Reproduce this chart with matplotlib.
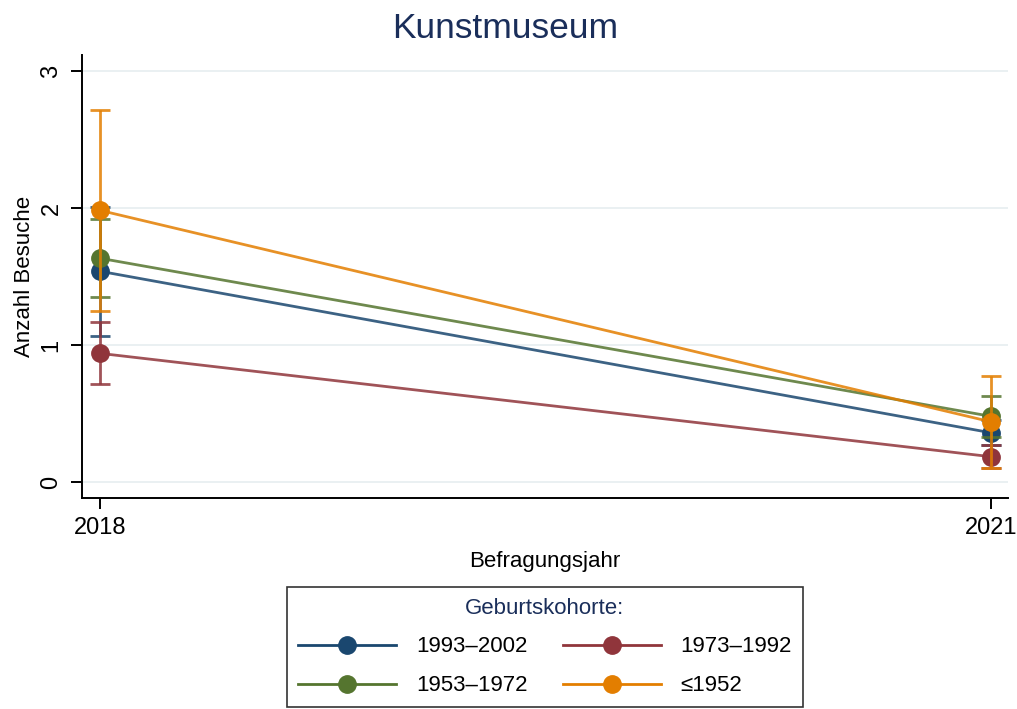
import matplotlib
matplotlib.use("Agg")
import matplotlib.pyplot as plt
from matplotlib.lines import Line2D

plt.rcParams['font.family'] = ['Liberation Sans', 'DejaVu Sans']

years = [2018, 2021]
cohorts = ["1993–2002", "1973–1992", "1953–1972", "≤1952"]
means = {
    "1993–2002": [1.54, 0.36],
    "1973–1992": [0.94, 0.185],
    "1953–1972": [1.635, 0.48],
    "≤1952": [1.985, 0.44],
}
lower = {
    "1993–2002": [1.07, 0.27],
    "1973–1992": [0.715, 0.10],
    "1953–1972": [1.35, 0.33],
    "≤1952": [1.25, 0.10],
}
upper = {
    "1993–2002": [2.01, 0.45],
    "1973–1992": [1.17, 0.27],
    "1953–1972": [1.92, 0.63],
    "≤1952": [2.72, 0.776],
}
colors = {
    "1993–2002": "#1a476f",
    "1973–1992": "#90353b",
    "1953–1972": "#55752f",
    "≤1952": "#e37e00",
}

fig = plt.figure(figsize=(10.17, 7.09), dpi=100)
ax = fig.add_axes([82/1017, 1-498/709, (1008-82)/1017, (498-55)/709])

handles = {}
for i, c in enumerate(cohorts):
    m = means[c]
    lo = [m[k]-lower[c][k] for k in range(2)]
    hi = [upper[c][k]-m[k] for k in range(2)]
    ax.errorbar(years, m, yerr=[lo, hi], fmt='none', ecolor=colors[c],
                elinewidth=2.0, capsize=7, capthick=2.0, alpha=0.85, zorder=3+i)
    ax.plot(years, m, color=colors[c], lw=2.0, alpha=0.85, zorder=3+i)
    ax.plot(years, m, 'o', color=colors[c], ms=12.5, zorder=3+i)
    handles[c] = Line2D([], [], color=colors[c], lw=2.0, marker='o', ms=12.5,
                        markerfacecolor=colors[c], markeredgecolor=colors[c])

ax.set_xlim(2017.94, 2021.058)
ax.set_ylim(-0.117, 3.12)
ax.set_xticks(years)
ax.set_yticks([0, 1, 2, 3])
ax.yaxis.grid(True, color='#e6eef0', lw=1.2)
ax.set_axisbelow(True)
for s in ['top', 'right']:
    ax.spines[s].set_visible(False)
for s in ['left', 'bottom']:
    ax.spines[s].set_linewidth(1.4)
ax.tick_params(axis='both', labelsize=17, width=1.4, length=8, pad=6)
ax.tick_params(axis='x', pad=6)
for lab in ax.get_yticklabels():
    lab.set_rotation(90)
    lab.set_va('center')
ax.set_xlabel("Befragungsjahr", fontsize=16, labelpad=8)
ax.set_ylabel("Anzahl Besuche", fontsize=16, labelpad=4)

fig.text(0.497, 1-29/709, "Kunstmuseum", ha='center', va='center', fontsize=25.5, color='#1a2e5a')

order = ["1993–2002", "1953–1972", "1973–1992", "≤1952"]
leg = fig.legend([handles[c] for c in order], order, ncol=2,
                 loc='center', bbox_to_anchor=(545/1017, 1-647/709),
                 fontsize=16, title="Geburtskohorte:", title_fontsize=16,
                 handlelength=4.4, columnspacing=1.6, handletextpad=0.9,
                 frameon=True, fancybox=False, borderpad=0.5, labelspacing=0.8)
leg.get_title().set_color('#1a2e5a')
leg.get_frame().set_edgecolor('black')
leg.get_frame().set_linewidth(1.2)

fig.savefig("out.png", dpi=100, facecolor='white')
